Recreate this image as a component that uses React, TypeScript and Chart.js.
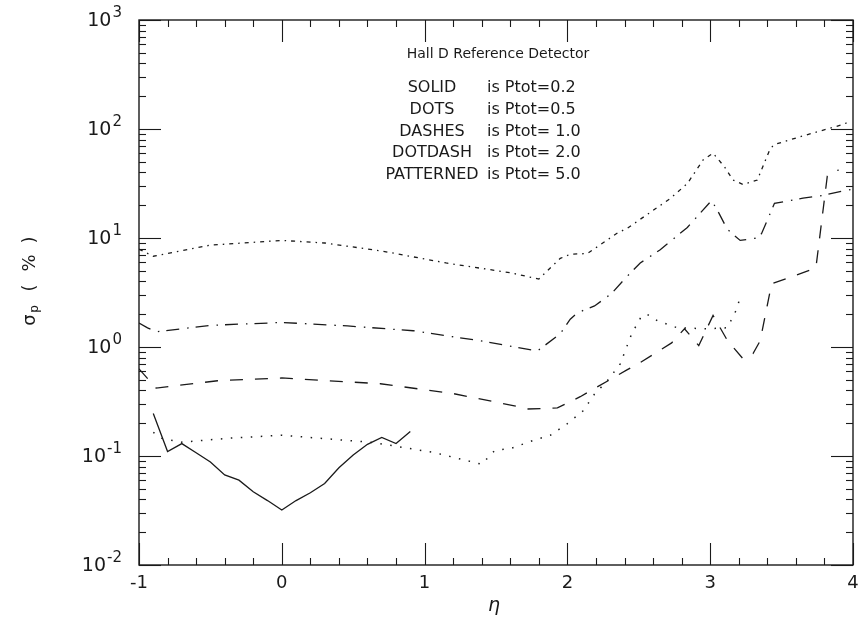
import React, { useEffect, useRef } from "react";
import { Chart, registerables } from "chart.js";

Chart.register(...registerables);

// ---------- data ----------
const etaSolid = [-0.9, -0.8, -0.7, -0.6, -0.5, -0.4, -0.3, -0.2, -0.1, 0.0, 0.1, 0.2, 0.3, 0.4, 0.5, 0.6, 0.7, 0.8, 0.9];
const sigmaSolid = [0.245, 0.11, 0.13, 0.107, 0.088, 0.067, 0.06, 0.047, 0.039, 0.032, 0.039, 0.046, 0.056, 0.078, 0.102, 0.128, 0.148, 0.13, 0.168];

const etaDots = [-0.9, -0.84, -0.7, -0.36, 0.0, 0.64, 1.06, 1.4, 1.49, 1.61, 1.76, 1.88, 2.0, 2.11, 2.19, 2.28, 2.37, 2.45, 2.52, 2.56, 2.63, 2.77, 2.98, 3.12, 3.19, 3.21];
const sigmaDots = [0.165, 0.145, 0.134, 0.146, 0.155, 0.133, 0.108, 0.084, 0.112, 0.118, 0.139, 0.155, 0.198, 0.26, 0.37, 0.49, 0.7, 1.32, 1.93, 1.99, 1.74, 1.5, 1.47, 1.5, 2.28, 2.94];

const etaDashes = [-1.0, -0.88, -0.45, 0.0, 0.69, 1.2, 1.62, 1.72, 1.93, 2.09, 2.42, 2.51, 2.73, 2.82, 2.92, 3.02, 3.12, 3.23, 3.3, 3.35, 3.43, 3.74, 3.82, 3.85, 3.9];
const sigmaDashes = [0.63, 0.42, 0.49, 0.52, 0.46, 0.374, 0.29, 0.27, 0.276, 0.35, 0.62, 0.72, 1.09, 1.47, 1.03, 1.95, 1.15, 0.78, 0.87, 1.14, 3.8, 5.3, 37, 41, 42];

const etaDotdash = [-1.0, -0.94, -0.88, -0.5, 0.0, 0.46, 0.92, 1.39, 1.79, 1.95, 2.02, 2.07, 2.19, 2.31, 2.4, 2.51, 2.65, 2.84, 3.01, 3.06, 3.12, 3.21, 3.33, 3.36, 3.45, 3.65, 3.79, 3.93, 4.0];
const sigmaDotdash = [1.66, 1.5, 1.38, 1.58, 1.68, 1.56, 1.41, 1.14, 0.92, 1.32, 1.8, 2.06, 2.38, 3.1, 4.2, 5.9, 7.8, 12.5, 22.1, 17, 12, 9.5, 10, 11, 20.8, 23.2, 24.6, 27, 28];

const etaPatterned = [-1.0, -0.9, -0.5, 0.0, 0.3, 0.7, 1.15, 1.6, 1.8, 1.95, 2.02, 2.14, 2.35, 2.42, 2.72, 2.84, 2.95, 3.02, 3.1, 3.16, 3.23, 3.33, 3.42, 3.45, 3.63, 3.93, 3.97];
const sigmaPatterned = [7.9, 6.8, 8.6, 9.5, 9.0, 7.6, 5.9, 4.8, 4.2, 6.5, 7.1, 7.2, 11.1, 12.3, 23, 31.6, 52, 60, 45, 34, 31, 34, 66, 72, 85, 110, 116];

const xTickValues = [-1, 0, 1, 2, 3, 4];
const xTickLabels = ["-1", "0", "1", "2", "3", "4"];
const yDecades = [-2, -1, 0, 1, 2, 3];
const yExponentLabels = ["-2", "-1", "0", "1", "2", "3"];

const chartTitle = "Hall D Reference Detector";
const legendWords = ["SOLID", "DOTS", "DASHES", "DOTDASH", "PATTERNED"];
const legendValues = ["is Ptot=0.2", "is Ptot=0.5", "is Ptot= 1.0", "is Ptot= 2.0", "is Ptot= 5.0"];
const xTitle = "\u03b7";

const toPoints = (xs: number[], ys: number[]) => xs.map((x, i) => ({ x, y: ys[i] }));

const INK = "#1a1a1a";
const FONT = "'DejaVu Sans', 'Liberation Sans', sans-serif";

const framePlugin = {
  id: "higzFrame",
  afterDraw(chart: any) {
    const { ctx, chartArea, scales } = chart;
    const { left, right, top, bottom } = chartArea;
    const xs = scales.x;
    const ys = scales.y;
    ctx.save();
    ctx.strokeStyle = INK;
    ctx.lineWidth = 1.4;
    ctx.strokeRect(left, top, right - left, bottom - top);

    const seg = (x1: number, y1: number, x2: number, y2: number) => {
      ctx.beginPath();
      ctx.moveTo(x1, y1);
      ctx.lineTo(x2, y2);
      ctx.stroke();
    };

    ctx.lineWidth = 1.1;
    // x ticks (bottom and top), every 0.2, major each 1
    for (let i = 0; i <= 25; i++) {
      const v = -1 + i * 0.2;
      const px = Math.round(xs.getPixelForValue(v)) + 0.5;
      const len = i % 5 === 0 ? 22 : 7;
      seg(px, bottom, px, bottom - len);
      seg(px, top, px, top + len);
    }
    // y ticks (left and right), log
    for (let d = -2; d <= 3; d++) {
      for (let k = 1; k <= 9; k++) {
        if (d === 3 && k > 1) break;
        const v = k * Math.pow(10, d);
        const py = Math.round(ys.getPixelForValue(v)) + 0.5;
        const len = k === 1 ? 22 : 7;
        seg(left, py, left + len, py);
        seg(right, py, right - len, py);
      }
    }

    ctx.fillStyle = INK;
    // x tick labels
    ctx.font = `18px ${FONT}`;
    ctx.textAlign = "center";
    ctx.textBaseline = "middle";
    xTickValues.forEach((v, i) => {
      ctx.fillText(xTickLabels[i], xs.getPixelForValue(v), bottom + 18);
    });

    // y tick labels 10^n
    yDecades.forEach((d, i) => {
      const py = ys.getPixelForValue(Math.pow(10, d));
      const sup = yExponentLabels[i];
      ctx.font = `15px ${FONT}`;
      const w = ctx.measureText(sup).width;
      const rightEdge = 122;
      ctx.textAlign = "left";
      ctx.textBaseline = "middle";
      ctx.fillText(sup, rightEdge - w, py - 7);
      ctx.font = `19px ${FONT}`;
      ctx.textAlign = "right";
      ctx.fillText("10", rightEdge - w - 1, py + 1);
    });

    // x axis title
    ctx.font = `italic 19px ${FONT}`;
    ctx.textAlign = "center";
    ctx.textBaseline = "middle";
    ctx.fillText(xTitle, 494, 606);

    // y axis title (rotated)
    ctx.save();
    ctx.translate(30, 285);
    ctx.rotate(-Math.PI / 2);
    ctx.textBaseline = "middle";
    ctx.textAlign = "center";
    ctx.font = `18px ${FONT}`;
    ctx.fillText("\u03c3", -35, 0);
    ctx.font = `12px ${FONT}`;
    ctx.fillText("p", -24, 5);
    ctx.font = `18px ${FONT}`;
    ctx.fillText("(", -3, 0);
    ctx.fillText("%", 22, 0);
    ctx.fillText(")", 45, 0);
    ctx.restore();

    // annotation block
    ctx.textBaseline = "middle";
    ctx.font = `14px ${FONT}`;
    ctx.textAlign = "center";
    ctx.fillText(chartTitle, 498, 54);
    ctx.font = `16px ${FONT}`;
    legendWords.forEach((w, i) => {
      const yy = 88 + i * 21.7;
      ctx.textAlign = "center";
      ctx.fillText(w, 432, yy);
      ctx.textAlign = "left";
      ctx.fillText(legendValues[i], 487, yy);
    });
    ctx.restore();
  },
};

export default function App() {
  const canvasRef = useRef<HTMLCanvasElement | null>(null);

  useEffect(() => {
    const canvas = canvasRef.current;
    if (!canvas) return;
    const common = {
      borderColor: INK,
      backgroundColor: INK,
      pointRadius: 0,
      tension: 0,
      fill: false,
      borderCapStyle: "butt" as const,
    };
    const chart = new Chart(canvas, {
      type: "line",
      data: {
        datasets: [
          { ...common, label: "SOLID", data: toPoints(etaSolid, sigmaSolid), borderWidth: 1.3 },
          { ...common, label: "DOTS", data: toPoints(etaDots, sigmaDots), borderWidth: 1.5, borderDash: [1.5, 8.5] },
          { ...common, label: "DASHES", data: toPoints(etaDashes, sigmaDashes), borderWidth: 1.3, borderDash: [13, 12] },
          { ...common, label: "DOTDASH", data: toPoints(etaDotdash, sigmaDotdash), borderWidth: 1.3, borderDash: [13, 8, 1.5, 7] },
          { ...common, label: "PATTERNED", data: toPoints(etaPatterned, sigmaPatterned), borderWidth: 1.3, borderDash: [4, 5, 1.5, 5] },
        ],
      },
      options: {
        animation: false,
        responsive: false,
        devicePixelRatio: 1,
        layout: { padding: { left: 139, top: 20, right: 10, bottom: 55 } },
        plugins: { legend: { display: false }, tooltip: { enabled: false }, title: { display: false } },
        elements: { line: { tension: 0 } },
        scales: {
          x: { type: "linear", min: -1, max: 4, display: false },
          y: { type: "logarithmic", min: 0.01, max: 1000, display: false },
        },
      },
      plugins: [framePlugin],
    });
    return () => chart.destroy();
  }, []);

  return (
    <div style={{ position: "fixed", left: 0, top: 0, width: 863, height: 620, background: "#fff" }}>
      <canvas ref={canvasRef} width={863} height={620} style={{ display: "block" }} />
    </div>
  );
}
